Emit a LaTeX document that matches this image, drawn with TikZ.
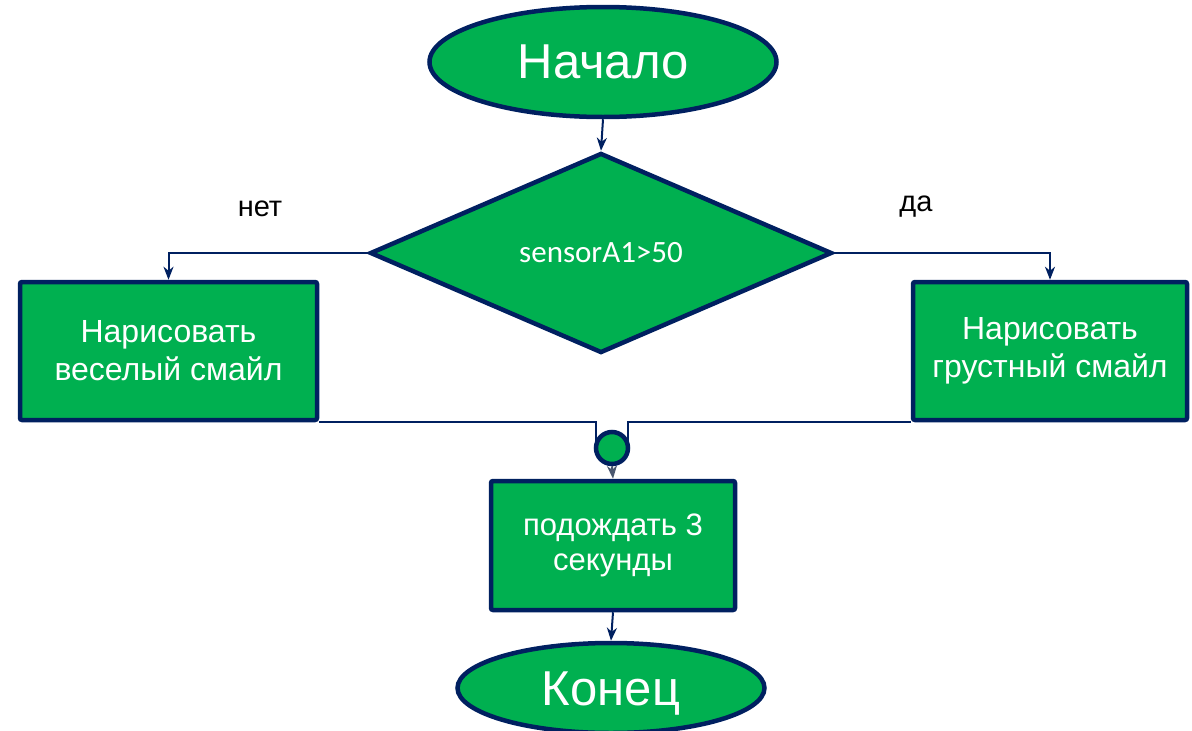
\documentclass[tikz,border=0pt]{standalone}
\usepackage{fontspec}
\setmainfont{Liberation Sans}
\newfontfamily\calfont{Carlito}
\usetikzlibrary{shapes.geometric,arrows.meta}
\definecolor{fgreen}{HTML}{00B050}
\definecolor{navy}{HTML}{002060}
\definecolor{arrgray}{HTML}{4A5870}
\tikzset{
  shapebase/.style={draw=navy,line width=4.5pt,fill=fgreen,text=white,inner sep=0pt,align=center},
  term/.style={shapebase,ellipse,font=\fontsize{49}{56}\selectfont},
  procbox/.style={shapebase,rectangle,rounded corners=2pt,font=\fontsize{32}{38}\selectfont},
  decision/.style={shapebase,diamond,font=\calfont\fontsize{31}{36}\selectfont},
  conn/.style={draw=navy,line width=2pt},
  arr/.style={conn,-{Stealth[length=13pt,width=10pt,inset=4pt]}},
  lbl/.style={font=\fontsize{29}{34}\selectfont,text=black}
}
\begin{document}
\begin{tikzpicture}[x=1pt,y=-1pt]
\useasboundingbox (0,0) rectangle (1192,731);
\node[term,minimum width=347pt,minimum height=110pt] (start) at (603,62) {Начало};
\node[decision,minimum width=462pt,minimum height=200pt] (dec) at (601,253) {sensorA1>50};
\node[procbox,minimum width=297pt,minimum height=138pt] (lbox) at (168.5,351) {Нарисовать\\веселый смайл};
\node[procbox,minimum width=274pt,minimum height=138pt] (rbox) at (1050,351) {Нарисовать\\грустный смайл};
\node[procbox,minimum width=244pt,minimum height=129pt,font=\fontsize{31}{35}\selectfont] (wait) at (613,545.5) {подождать 3\\секунды};
\node[term,minimum width=307pt,minimum height=90pt] (stop) at (611,688) {};
\node[text=white,font=\fontsize{49}{56}\selectfont,inner sep=0pt] (stoptxt) at (611,694) {Конец};
\node[lbl] (no) at (260,209) {нет};
\node[lbl] (yes) at (916,207) {да};
\draw[conn] (lbox.south east) -| (596,448) coordinate (jl);
\draw[conn] (rbox.south west) -| (628,448) coordinate (jr);
\node[shapebase,circle,minimum size=32pt] (join) at (612,448) {};
\draw[arr] (start.south) -- (dec.north);
\draw[arr] (dec.west) -| (lbox.north);
\draw[arr] (dec.east) -| (rbox.north);
\draw[arr,draw=arrgray] (join.south) -- (wait.north);
\draw[arr] (wait.south) -- (stop.north);
\end{tikzpicture}
\end{document}
